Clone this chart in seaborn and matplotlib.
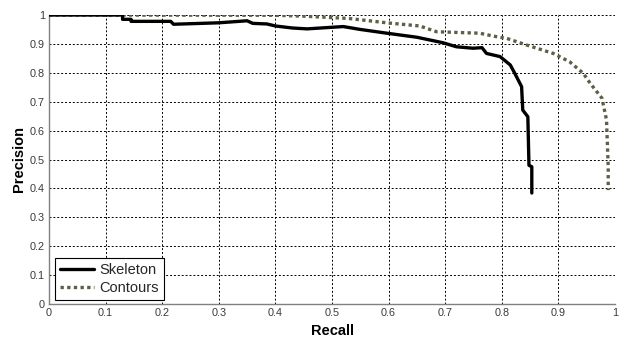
import matplotlib
matplotlib.use("Agg")
import matplotlib.pyplot as plt
import seaborn as sns
import pandas as pd

skeleton_recall = [0.0, 0.13, 0.13, 0.145, 0.145, 0.215, 0.22, 0.30, 0.35, 0.36, 0.385, 0.40,
                   0.43, 0.456, 0.52, 0.55, 0.597, 0.65, 0.696, 0.72, 0.749, 0.765, 0.773,
                   0.797, 0.815, 0.823, 0.835, 0.837, 0.846, 0.848, 0.853, 0.853]
skeleton_precision = [1.0, 1.0, 0.985, 0.985, 0.978, 0.978, 0.968, 0.973, 0.980, 0.971, 0.969, 0.962,
                      0.955, 0.952, 0.960, 0.950, 0.937, 0.923, 0.904, 0.890, 0.885, 0.887, 0.867,
                      0.856, 0.827, 0.798, 0.752, 0.671, 0.648, 0.48, 0.475, 0.384]

contours_recall = [0.0, 0.40, 0.45, 0.53, 0.597, 0.655, 0.685, 0.761, 0.785, 0.809, 0.844, 0.891,
                   0.92, 0.944, 0.956, 0.977, 0.985, 0.988, 0.988]
contours_precision = [1.0, 0.999, 0.996, 0.988, 0.973, 0.962, 0.942, 0.937, 0.927, 0.919, 0.896, 0.867,
                      0.838, 0.798, 0.764, 0.712, 0.637, 0.475, 0.394]

series_names = ["Skeleton", "Contours"]
tick_values = [0, 0.1, 0.2, 0.3, 0.4, 0.5, 0.6, 0.7, 0.8, 0.9, 1]
tick_labels = ["0", "0.1", "0.2", "0.3", "0.4", "0.5", "0.6", "0.7", "0.8", "0.9", "1"]

sns.set_style("white")
plt.rcParams["font.family"] = ["Liberation Sans", "DejaVu Sans"]

fig = plt.figure(figsize=(6.24, 3.38), dpi=100)
ax = fig.add_axes([49/624, 1 - 304/338, 566/624, 289/338])

df_s = pd.DataFrame({"Recall": skeleton_recall, "Precision": skeleton_precision})
df_c = pd.DataFrame({"Recall": contours_recall, "Precision": contours_precision})

ax.grid(True, color="black", linestyle=(0, (2, 2)), linewidth=0.7, zorder=0)
ax.set_axisbelow(True)

sns.lineplot(data=df_s, x="Recall", y="Precision", estimator=None, sort=False,
             color="black", linewidth=2.4, label=series_names[0], ax=ax, zorder=3)
sns.lineplot(data=df_c, x="Recall", y="Precision", estimator=None, sort=False,
             color="#5f5f47", linewidth=2.4, linestyle=(0, (1, 1)), label=series_names[1],
             ax=ax, zorder=2)

ax.set_xlim(0, 1)
ax.set_ylim(0, 1)
ax.set_xticks(tick_values)
ax.set_xticklabels(tick_labels)
ax.set_yticks(tick_values)
ax.set_yticklabels(tick_labels)
ax.tick_params(direction="in", length=3, width=0.8, color="#808080",
               labelsize=7.8, labelcolor="#3a3a3a", pad=3)
for s in ["top", "right"]:
    ax.spines[s].set_visible(False)
for s in ["left", "bottom"]:
    ax.spines[s].set_color("#808080")
    ax.spines[s].set_linewidth(1.0)

ax.set_xlabel("Recall", fontsize=10.5, color="black", fontweight="bold", labelpad=4)
ax.set_ylabel("Precision", fontsize=10.5, color="black", fontweight="bold", labelpad=3)

leg = ax.legend(loc="lower left", bbox_to_anchor=(0.0106, 0.0138), borderaxespad=0,
                fontsize=10.5, frameon=True, fancybox=False, framealpha=1,
                edgecolor="black", handlelength=2.3, handletextpad=0.4,
                borderpad=0.35, labelspacing=0.25)
leg.get_frame().set_linewidth(0.8)

fig.savefig("out.png", dpi=100)
